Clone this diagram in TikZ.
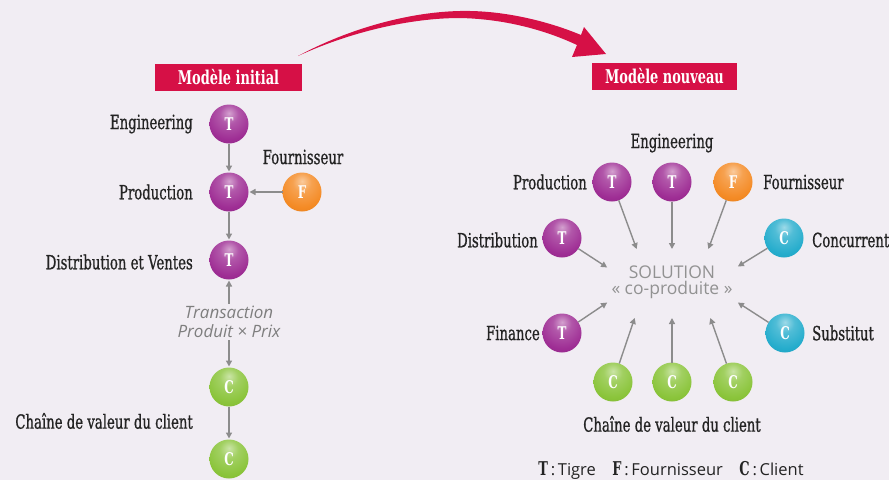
\documentclass[tikz,border=0pt]{standalone}
\usepackage{fontspec}
\usetikzlibrary{arrows.meta}
\newfontfamily\slab[FakeStretch=0.68]{DejaVu Serif}
\newfontfamily\slabm[FakeStretch=0.68,FakeBold=0.8]{DejaVu Serif}
\newfontfamily\osans{Open Sans}
\newcommand\legkey[1]{{\slab\bfseries\fontsize{19}{16}\selectfont #1}}
\definecolor{bgc}{RGB}{241,237,243}
\definecolor{crim}{RGB}{214,16,70}
\definecolor{purp}{RGB}{158,45,148}
\definecolor{oran}{RGB}{244,138,36}
\definecolor{gree}{RGB}{138,196,58}
\definecolor{cyan2}{RGB}{36,172,204}
\definecolor{conng}{RGB}{140,140,140}
\definecolor{lblc}{RGB}{35,35,35}
\pgfdeclareradialshading{ballP}{\pgfpoint{0bp}{14bp}}{color(0bp)=(purp!45!white); color(12bp)=(purp!80!white); color(30bp)=(purp); color(48bp)=(purp!85!black); color(58bp)=(purp!75!white); color(100bp)=(purp!75!white)}
\pgfdeclareradialshading{ballO}{\pgfpoint{0bp}{14bp}}{color(0bp)=(oran!45!white); color(12bp)=(oran!80!white); color(30bp)=(oran); color(48bp)=(oran!88!black); color(58bp)=(oran!75!white); color(100bp)=(oran!75!white)}
\pgfdeclareradialshading{ballG}{\pgfpoint{0bp}{14bp}}{color(0bp)=(gree!45!white); color(12bp)=(gree!80!white); color(30bp)=(gree); color(48bp)=(gree!88!black); color(58bp)=(gree!75!white); color(100bp)=(gree!75!white)}
\pgfdeclareradialshading{ballC}{\pgfpoint{0bp}{14bp}}{color(0bp)=(cyan2!45!white); color(12bp)=(cyan2!80!white); color(30bp)=(cyan2); color(48bp)=(cyan2!88!black); color(58bp)=(cyan2!75!white); color(100bp)=(cyan2!75!white)}
\tikzset{
  ballbase/.style={circle,minimum size=39pt,inner sep=0pt,outer sep=0pt,text=white,font=\slab\bfseries\fontsize{17.5}{17}\selectfont},
  tball/.style={ballbase,shading=ballP},
  fball/.style={ballbase,shading=ballO},
  cball/.style={ballbase,shading=ballG},
  qball/.style={ballbase,shading=ballC},
  lbl/.style={text=lblc,font=\slabm\fontsize{19.5}{21}\selectfont,inner sep=0pt},
  banner/.style={fill=crim,text=white,font=\slab\bfseries\fontsize{19}{19}\selectfont,minimum height=27pt,inner sep=0pt},
  conn/.style={draw=conng,line width=1.4pt,-{Triangle[length=6pt,width=6pt]},shorten >=1pt},
  txt/.style={text=conng!90!black,font=\osans\itshape\fontsize{17}{19.5}\selectfont,align=center,inner sep=2pt},
  sol/.style={text=conng!95!white,font=\osans\fontsize{17.5}{16}\selectfont,align=center,inner sep=2pt},
}
\begin{document}
\begin{tikzpicture}[x=1pt,y=-1pt]
\fill[bgc] (0,0) rectangle (889,480);
\useasboundingbox (0,0) rectangle (889,480);
% big arrow
\fill[crim] (298,56) .. controls (350,28) and (410,12) .. (460,11)
  .. controls (505,10) and (550,22) .. (581,35) -- (584,27) -- (606,54) -- (572,57) -- (577,45)
  .. controls (545,30) and (505,19) .. (460,18)
  .. controls (410,18) and (350,32) .. (298,56) -- cycle;
% banners
\node[banner,minimum width=147pt] (b1) at (228.5,77) {Modèle initial};
\node[banner,minimum width=145pt] (b2) at (664.5,76) {Modèle nouveau};
% left column
\node[tball] (l1) at (229,124) {T};
\node[tball] (l2) at (229,192) {T};
\node[fball] (lf) at (302,192) {F};
\node[tball] (l3) at (229,260) {T};
\node[cball] (c1) at (229,387) {C};
\node[cball] (c2) at (229,459) {C};
\node[lbl,anchor=east] (lEng) at (193,124) {Engineering};
\node[lbl,anchor=east] (lProd) at (193,192) {Production};
\node[lbl] (lFour) at (303,157) {Fournisseur};
\node[lbl,anchor=east] (lDist) at (193,262) {Distribution et Ventes};
\node[lbl,anchor=east] (lCh) at (193,421) {Chaîne de valeur du client};
\node[txt] (tx) at (229,322) {Transaction\\Produit × Prix};
\draw[conn] (l1) -- (l2);
\draw[conn] (lf) -- (l2);
\draw[conn] (l2) -- (l3);
\draw[conn] (tx.north) -- (l3);
\draw[conn] (tx.south) -- (c1);
\draw[conn] (c1) -- (c2);
% right
\node[sol] (sol) at (672,282) {SOLUTION\\« co-produite »};
\node[tball] (rp) at (612,182) {T};
\node[tball] (re) at (672,182) {T};
\node[fball] (rf) at (733,182) {F};
\node[tball] (rd) at (562,238) {T};
\node[qball] (rc) at (784,238) {C};
\node[tball] (rfi) at (562,333) {T};
\node[qball] (rs) at (785,333) {C};
\node[cball] (rc1) at (613,382) {C};
\node[cball] (rc2) at (672,382) {C};
\node[cball] (rc3) at (733,382) {C};
\node[lbl] (rEng) at (672,143) {Engineering};
\node[lbl,anchor=east] (rProd) at (587,182) {Production};
\node[lbl,anchor=west] (rFour) at (763,182) {Fournisseur};
\node[lbl,anchor=east] (rDist) at (538,240) {Distribution};
\node[lbl,anchor=west] (rConc) at (812,240) {Concurrent};
\node[lbl,anchor=east] (rFin) at (540,333) {Finance};
\node[lbl,anchor=west] (rSub) at (812,333) {Substitut};
\node[lbl] (rCh) at (672,424) {Chaîne de valeur du client};
\node[text=lblc,font=\osans\fontsize{16.5}{16}\selectfont] (leg) at (671,470)
  {\legkey{T}\,:\,Tigre\quad\legkey{F}\,:\,Fournisseur\quad\legkey{C}\,:\,Client};
\coordinate (a1) at (637,250);
\coordinate (a2) at (672,250);
\coordinate (a3) at (708,250);
\coordinate (a4) at (608,268);
\coordinate (a5) at (737,267);
\coordinate (a6) at (608,302);
\coordinate (a7) at (737,302);
\coordinate (a8) at (635,317);
\coordinate (a9) at (672,317);
\coordinate (a10) at (710,317);
\draw[conn] (rp) -- (a1);
\draw[conn] (re) -- (a2);
\draw[conn] (rf) -- (a3);
\draw[conn] (rd) -- (a4);
\draw[conn] (rc) -- (a5);
\draw[conn] (rfi) -- (a6);
\draw[conn] (rs) -- (a7);
\draw[conn] (rc1) -- (a8);
\draw[conn] (rc2) -- (a9);
\draw[conn] (rc3) -- (a10);
\end{tikzpicture}
\end{document}
